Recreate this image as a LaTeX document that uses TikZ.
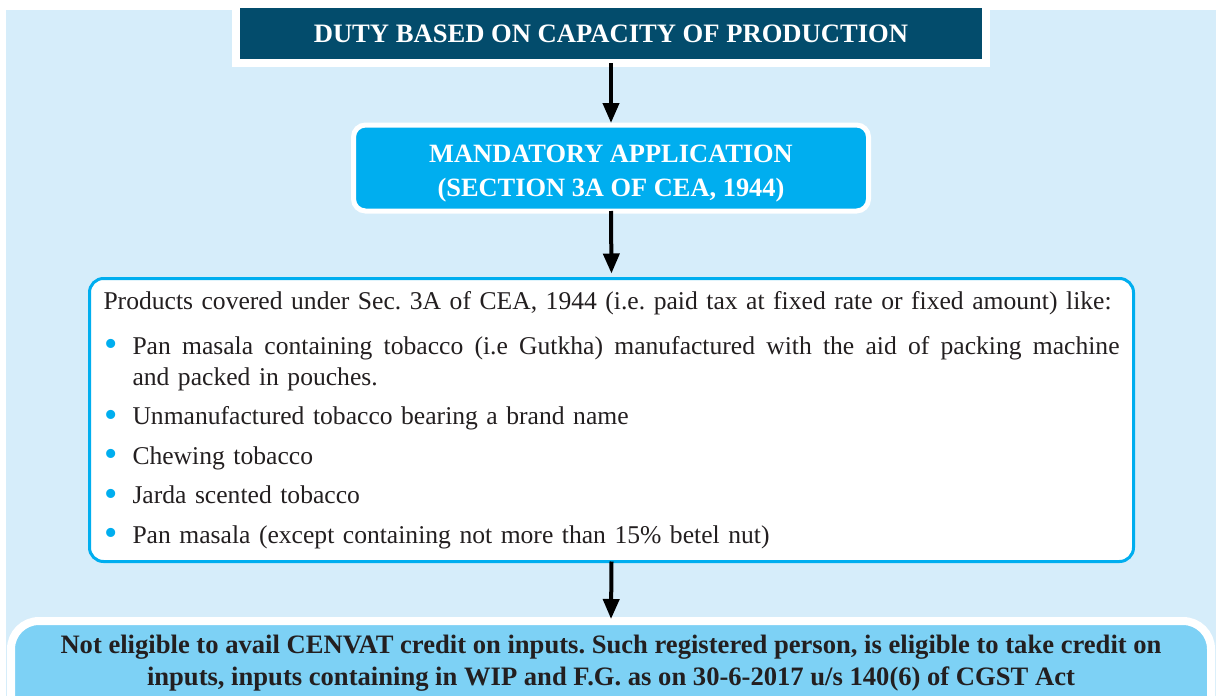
\documentclass[tikz,border=0pt]{standalone}
\usepackage{fontspec}
\setmainfont{Liberation Serif}
\usetikzlibrary{arrows.meta}
\definecolor{bgblue}{HTML}{D6EDFA}
\definecolor{navy}{HTML}{034C6C}
\definecolor{brightcyan}{HTML}{00AEEF}
\definecolor{skyblue}{HTML}{7DD1F5}
\definecolor{inkgray}{HTML}{231F20}
\newcommand{\cyanbullet}{\makebox[14.5pt][l]{\hspace{0.5pt}\raisebox{-1.3pt}{\textcolor{brightcyan}{\fontsize{19}{0}\selectfont\textbullet}}}}
\begin{document}
\frenchspacing
\begin{tikzpicture}[x=0.5pt,y=-0.5pt,
        headbox/.style={rectangle, draw=white, line width=4pt, fill=navy, text=white, font=\bfseries\fontsize{13.3}{16}\selectfont, minimum width=375pt, minimum height=29.5pt, outer sep=0pt},
        rulebox/.style={rectangle, rounded corners=6pt, draw=white, line width=2.5pt, fill=brightcyan, text=white, align=center, font=\bfseries\fontsize{13.2}{17}\selectfont, minimum width=257.5pt, minimum height=43pt, outer sep=0pt},
        listbox/.style={rectangle, rounded corners=7pt, draw=brightcyan, line width=1.5pt, fill=white, text=inkgray, align=left, font=\fontsize{12.8}{15.5}\selectfont, text width=508pt, inner xsep=6.75pt, minimum width=522pt, minimum height=141.5pt, outer sep=0pt},
        creditbox/.style={rectangle, rounded corners=14pt, draw=white, line width=4pt, fill=skyblue, text=inkgray, align=center, font=\bfseries\fontsize{13.3}{16}\selectfont, minimum width=600pt, inner ysep=7pt, text depth=40pt, outer sep=0pt},
        flow/.style={-{Triangle[width=8pt,length=10pt]}, line width=2pt, black, shorten >=1pt}
    ]
    \useasboundingbox (0,0) rectangle (1216,696);
    \clip (0,0) rectangle (1216,696);
    % page background
    \fill[bgblue] (6,10) rectangle (1216,696);

    % boxes
    \node[headbox] (head) at (611,33.5) {DUTY BASED ON CAPACITY OF PRODUCTION};
    \node[rulebox] (mandatory) at (611,168) {\rule{0pt}{14.5pt}MANDATORY APPLICATION\\(SECTION 3A OF CEA, 1944)};
    \node[listbox] (products) at (611.5,420) {\mbox{Products covered under Sec. 3A of CEA, 1944 (i.e. paid tax at fixed rate or fixed amount) like:}\\[7pt]
        \makebox[508pt][s]{\spaceskip=0.25em plus 1em\cyanbullet Pan masala containing tobacco (i.e Gutkha) manufactured with the aid of packing machine}\\
        \hspace*{14.5pt}and packed in pouches.\\[4.25pt]
        \cyanbullet Unmanufactured tobacco bearing a brand name\\[4.25pt]
        \cyanbullet Chewing tobacco\\[4.25pt]
        \cyanbullet Jarda scented tobacco\\[4.25pt]
        \cyanbullet Pan masala (except containing not more than 15\% betel nut)};
    \node[creditbox, anchor=north] (credit) at (611,621) {Not eligible to avail CENVAT credit on inputs. Such registered person, is eligible to take credit on\\inputs, inputs containing in WIP and F.G. as on 30-6-2017 u/s 140(6) of CGST Act};

    % connectors
    \draw[flow] (head.south) -- (mandatory.north);
    \draw[flow, shorten >=2.5pt] (mandatory.south) -- (products.north);
    \draw[flow] (products.south) -- (credit.north);
\end{tikzpicture}
\end{document}
